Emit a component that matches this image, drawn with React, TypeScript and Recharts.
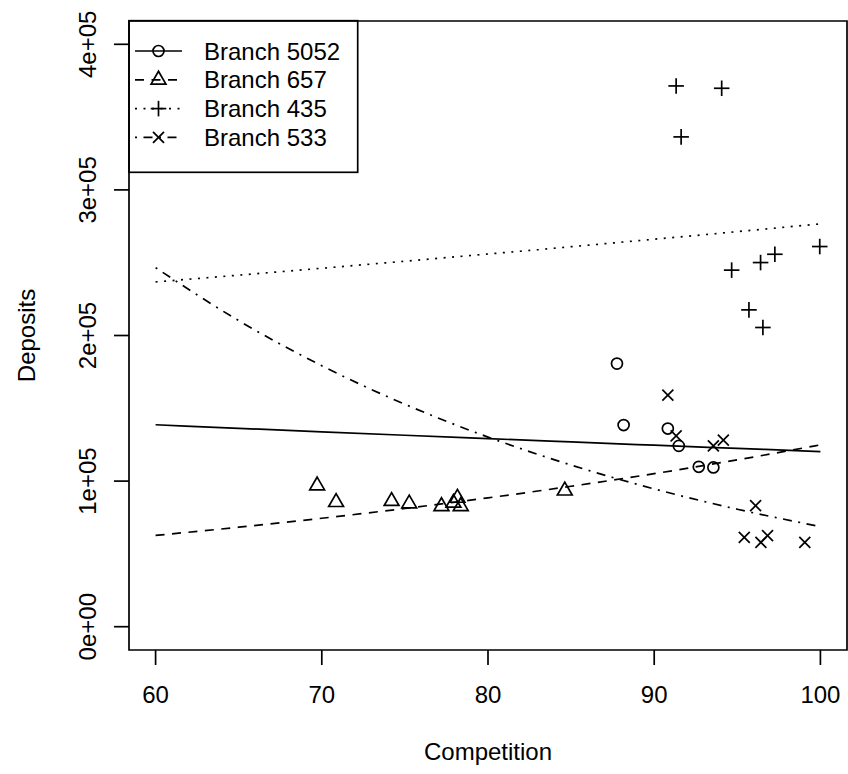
import { ComposedChart, Scatter, Line, XAxis, YAxis, ReferenceArea, Legend } from "recharts"

const competition5052 = [87.76, 88.16, 90.82, 91.48, 92.68, 93.56]
const deposits5052 = [180700, 138500, 136100, 124200, 109800, 109400]

const competition657 = [69.72, 70.86, 74.2, 75.26, 77.2, 77.92, 78.16, 78.36, 84.62]
const deposits657 = [96900, 85500, 86200, 84500, 82700, 85000, 88400, 82700, 93400]

const competition435 = [91.32, 94.06, 91.62, 99.96, 97.26, 96.4, 94.66, 95.7, 96.54]
const deposits435 = [371400, 369800, 336400, 261100, 255800, 250100, 244900, 217600, 205500]

const competition533 = [90.82, 91.32, 93.56, 94.16, 96.1, 95.42, 96.42, 96.82, 99.06]
const deposits533 = [159000, 131100, 124200, 128200, 83100, 61300, 57900, 62500, 57900]

// fitted curves, read at every 5 units of competition
const fitCompetition = [60, 65, 70, 75, 80, 85, 90, 95, 100]
const fit5052 = [138700, 136250, 133850, 131490, 129170, 126890, 124660, 122460, 120300]
const fit657 = [62700, 68340, 74490, 81190, 88490, 96450, 105130, 114590, 124900]
const fit435 = [236800, 241450, 246190, 251030, 255960, 260990, 266110, 271340, 276670]
const fit533 = [246600, 210220, 179210, 152770, 130230, 111020, 94640, 80680, 68770]

const xTicks = [60, 70, 80, 90, 100]
const yTicks = [0, 100000, 200000, 300000, 400000]
const yTickLabels = ["0e+00", "1e+05", "2e+05", "3e+05", "4e+05"]

const branchNames = ["Branch 5052", "Branch 657", "Branch 435", "Branch 533"]

const toPoints = (xs: number[], ys: number[]) => xs.map((x, i) => ({ x, y: ys[i] }))

const FONT = "'Liberation Sans', Arial, Helvetica, sans-serif"
const SW = 1.7
const R = 5.5

const DASH = "9 7.5"
const DOT = "2 6.5"
const DASHDOT = "2 6.5 9 6.5"

const lineStyles = [undefined, DASH, DOT, DASHDOT]

function marker(kind: number, cx: number, cy: number) {
  if (kind === 0) {
    return <circle cx={cx} cy={cy} r={R} fill="none" stroke="#000" strokeWidth={SW} />
  }
  if (kind === 1) {
    const top = 1.555 * R
    const half = 1.347 * R
    const base = 0.778 * R
    return (
      <polygon
        points={`${cx},${cy - top} ${cx + half},${cy + base} ${cx - half},${cy + base}`}
        fill="none"
        stroke="#000"
        strokeWidth={SW}
      />
    )
  }
  if (kind === 2) {
    const a = Math.SQRT2 * R
    return (
      <g stroke="#000" strokeWidth={SW}>
        <line x1={cx - a} y1={cy} x2={cx + a} y2={cy} />
        <line x1={cx} y1={cy - a} x2={cx} y2={cy + a} />
      </g>
    )
  }
  return (
    <g stroke="#000" strokeWidth={SW}>
      <line x1={cx - R} y1={cy - R} x2={cx + R} y2={cy + R} />
      <line x1={cx - R} y1={cy + R} x2={cx + R} y2={cy - R} />
    </g>
  )
}

const shapeFor = (kind: number) => (props: any) => marker(kind, props.cx, props.cy)

const XTick = (props: any) => (
  <text x={props.x} y={703} textAnchor="middle" fontFamily={FONT} fontSize={24} fill="#000">
    {props.payload.value}
  </text>
)

const YTick = (props: any) => {
  const i = yTicks.indexOf(props.payload.value)
  return (
    <text
      x={96}
      y={props.y}
      transform={`rotate(-90, 96, ${props.y})`}
      textAnchor="middle"
      fontFamily={FONT}
      fontSize={24}
      fill="#000"
    >
      {yTickLabels[i]}
    </text>
  )
}

const XTitle = (props: any) => (
  <text x={props.viewBox.x + props.viewBox.width / 2} y={760} textAnchor="middle" fontFamily={FONT} fontSize={24} fill="#000">
    Competition
  </text>
)

const YTitle = (props: any) => {
  const cy = props.viewBox.y + props.viewBox.height / 2
  return (
    <text x={35} y={cy} transform={`rotate(-90, 35, ${cy})`} textAnchor="middle" fontFamily={FONT} fontSize={24} fill="#000">
      Deposits
    </text>
  )
}

const legendRows = [51, 79.8, 108.6, 137.4]

const renderLegend = () => (
  <svg width={848} height={200} style={{ display: "block" }}>
    <rect x={129} y={20.7} width={228.7} height={151.6} fill="none" stroke="#000" strokeWidth={SW} />
    {branchNames.map((name, i) => (
      <g key={name}>
        <line x1={135} y1={legendRows[i]} x2={182} y2={legendRows[i]} stroke="#000" strokeWidth={SW} strokeDasharray={lineStyles[i]} />
        {marker(i, 158.5, legendRows[i])}
        <text x={204} y={legendRows[i] + 8.5} fontFamily={FONT} fontSize={24} fill="#000">
          {name}
        </text>
      </g>
    ))}
  </svg>
)

export default function App() {
  return (
    <div style={{ position: "absolute", left: 0, top: 0, background: "#fff" }}>
      <ComposedChart width={848} height={774} margin={{ top: 21, right: 1, left: 0, bottom: 0 }}>
        <XAxis
          dataKey="x"
          type="number"
          domain={[58.4, 101.6]}
          ticks={xTicks}
          allowDataOverflow
          height={124}
          axisLine={false}
          tickSize={15}
          tickLine={{ stroke: "#000", strokeWidth: SW }}
          tick={<XTick />}
          label={<XTitle />}
        />
        <YAxis
          dataKey="y"
          type="number"
          domain={[-16000, 416000]}
          ticks={yTicks}
          allowDataOverflow
          width={129}
          axisLine={false}
          tickSize={15}
          tickLine={{ stroke: "#000", strokeWidth: SW }}
          tick={<YTick />}
          label={<YTitle />}
        />
        <ReferenceArea x1={58.4} x2={101.6} y1={-16000} y2={416000} fill="none" stroke="#000" strokeWidth={SW} fillOpacity={0} />
        <Line data={toPoints(fitCompetition, fit5052)} dataKey="y" type="monotone" stroke="#000" strokeWidth={SW} dot={false} isAnimationActive={false} />
        <Line data={toPoints(fitCompetition, fit657)} dataKey="y" type="monotone" stroke="#000" strokeWidth={SW} strokeDasharray={DASH} dot={false} isAnimationActive={false} />
        <Line data={toPoints(fitCompetition, fit435)} dataKey="y" type="monotone" stroke="#000" strokeWidth={SW} strokeDasharray={DOT} dot={false} isAnimationActive={false} />
        <Line data={toPoints(fitCompetition, fit533)} dataKey="y" type="monotone" stroke="#000" strokeWidth={SW} strokeDasharray={DASHDOT} dot={false} isAnimationActive={false} />
        <Scatter data={toPoints(competition5052, deposits5052)} shape={shapeFor(0)} isAnimationActive={false} />
        <Scatter data={toPoints(competition657, deposits657)} shape={shapeFor(1)} isAnimationActive={false} />
        <Scatter data={toPoints(competition435, deposits435)} shape={shapeFor(2)} isAnimationActive={false} />
        <Scatter data={toPoints(competition533, deposits533)} shape={shapeFor(3)} isAnimationActive={false} />
        <Legend
          layout="horizontal"
          verticalAlign="middle"
          align="center"
          content={renderLegend}
          wrapperStyle={{ left: 0, top: 0, width: 848, height: 200, pointerEvents: "none" }}
        />
      </ComposedChart>
    </div>
  )
}
